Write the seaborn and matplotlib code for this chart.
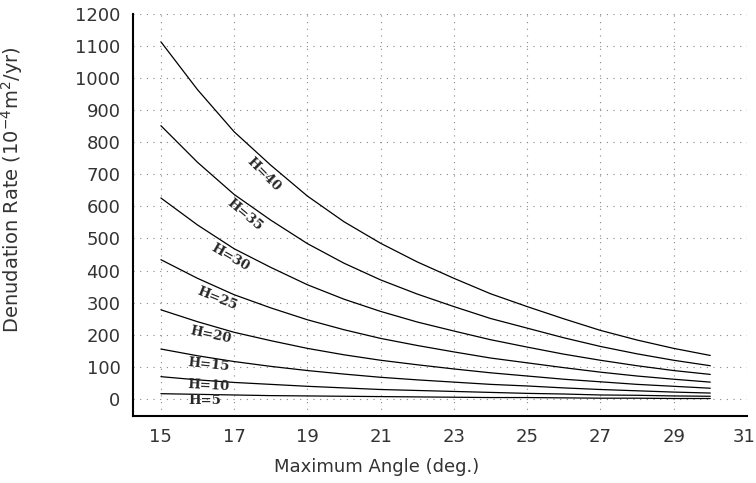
import numpy as np
import pandas as pd
import matplotlib
matplotlib.use("Agg")
import matplotlib.pyplot as plt
import matplotlib.transforms as mtransforms
from matplotlib.ticker import MultipleLocator
import seaborn as sns

# values
angles = [15, 16, 17, 18, 19, 20, 21, 22, 23, 24, 25, 26, 27, 28, 29, 30]
h_levels = [40, 35, 30, 25, 20, 15, 10, 5]
rate_h40 = [1112, 963, 832, 728, 632, 552, 485, 427, 376, 328, 288, 250, 214, 184, 158, 136]
rate_h35 = [851, 737, 637, 557, 484, 423, 371, 327, 288, 251, 221, 191, 164, 141, 121, 104]
rate_h30 = [626, 542, 468, 410, 356, 311, 273, 240, 212, 185, 162, 140, 121, 104, 89, 77]
rate_h25 = [434, 376, 325, 284, 247, 216, 189, 167, 147, 128, 113, 98, 84, 72, 62, 53]
rate_h20 = [278, 241, 208, 182, 158, 138, 121, 107, 94, 82, 72, 62, 54, 46, 40, 34]
rate_h15 = [156, 135, 117, 102, 89, 78, 68, 60, 53, 46, 41, 35, 30, 26, 22, 19]
rate_h10 = [70, 60, 52, 46, 40, 35, 30, 27, 24, 21, 18, 16, 13, 12, 10, 9]
rate_h5 = [17, 15, 13, 11, 10, 9, 8, 7, 6, 5, 5, 4, 3, 3, 2, 2]
curve_labels = ["H=40", "H=35", "H=30", "H=25", "H=20", "H=15", "H=10", "H=5"]

rates = [rate_h40, rate_h35, rate_h30, rate_h25, rate_h20, rate_h15, rate_h10, rate_h5]
df = pd.DataFrame({
    "angle": angles * len(h_levels),
    "rate": sum(rates, []),
    "H": np.repeat(h_levels, len(angles)),
})

# where the inline curve labels sit (x, y, rotation)
label_pos = [(17.8, 700, -45), (17.3, 574, -40), (16.9, 440, -30), (16.55, 313, -22),
             (16.35, 201, -12), (16.3, 106, -6), (16.3, 42, -3), (16.2, -4, 0)]

sns.set_style("white")
plt.rcParams['font.family'] = ['DejaVu Sans']
plt.rcParams['mathtext.default'] = 'regular'

fig = plt.figure(figsize=(7.56, 4.83), dpi=100)
ax = fig.add_axes([0.176, 0.139, 0.812, 0.833])

sns.lineplot(data=df, x="angle", y="rate", units="H", estimator=None,
             color="black", linewidth=0.9, ax=ax)

for lab, (lx, ly, rot) in zip(curve_labels, label_pos):
    ax.text(lx, ly, lab, rotation=rot, ha="center", va="center",
            fontsize=9.5, fontweight="bold", family="DejaVu Serif",
            rotation_mode="anchor")

ax.set_xlim(14.24, 31)
ax.set_ylim(-52, 1200)
ax.xaxis.set_major_locator(MultipleLocator(2))
ax.xaxis.set_minor_locator(MultipleLocator(1))
ax.yaxis.set_major_locator(MultipleLocator(100))
ax.yaxis.set_minor_locator(MultipleLocator(50))
ax.set_xticks(range(15, 32, 2))

ax.grid(True, which="major", linestyle=(0, (1, 5)), color="#888888", linewidth=0.8)
sns.despine(ax=ax)
for s in ["left", "bottom"]:
    ax.spines[s].set_linewidth(1.5)
    ax.spines[s].set_color("black")

ax.tick_params(axis="both", which="major", direction="in", length=5, width=1,
               labelsize=13, colors="black", pad=9)
ax.tick_params(axis="both", which="minor", direction="in", length=3, width=0.8)
for t in ax.get_xticklabels() + ax.get_yticklabels():
    t.set_color("#333333")

# nudge the last x label so it stays inside the figure
last = ax.get_xticklabels()[-1]
last.set_transform(last.get_transform() +
                   mtransforms.ScaledTranslation(-3 / 100, 0, fig.dpi_scale_trans))

ax.set_xlabel("Maximum Angle (deg.)", fontsize=13, color="#333333")
ax.set_ylabel(r"Denudation Rate (10$^{-4}$m$^{2}$/yr)", fontsize=14, color="#333333")
ax.xaxis.set_label_coords(0.397, -0.1045)
ax.yaxis.set_label_coords(-0.176, 0.562)

fig.savefig("out.png", dpi=100)
